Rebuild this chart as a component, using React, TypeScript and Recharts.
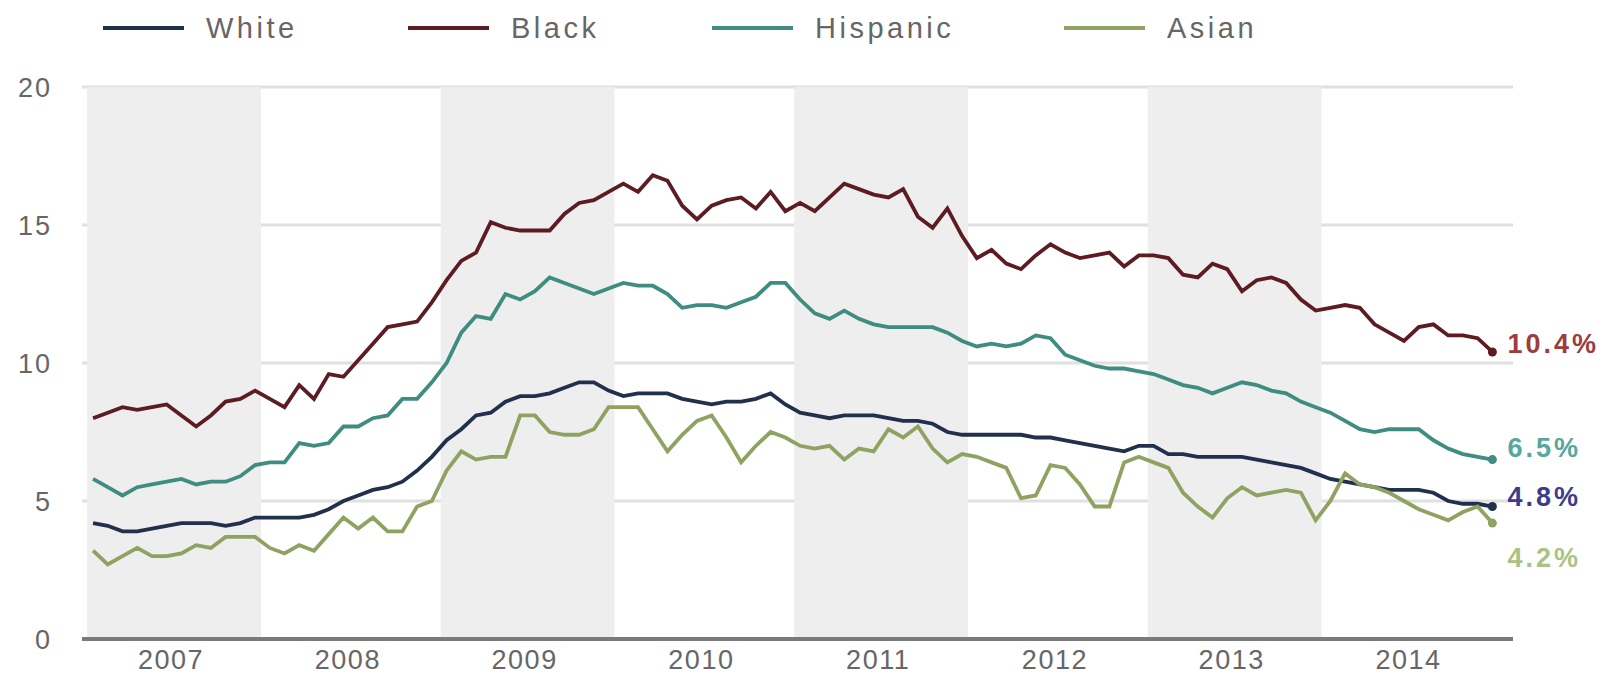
import React from "react";
import { CartesianGrid, Line, LineChart, ReferenceArea, XAxis, YAxis } from "recharts";

// monthly unemployment rate, Jan 2007 - Dec 2014
const YEARS = ["2007", "2008", "2009", "2010", "2011", "2012", "2013", "2014"];
const SHADED_YEARS = [0, 2, 4, 6];
const Y_TICKS = [0, 5, 10, 15, 20];

const WHITE = [
  4.2, 4.1, 3.9, 3.9, 4.0, 4.1, 4.2, 4.2, 4.2, 4.1, 4.2, 4.4,
  4.4, 4.4, 4.4, 4.5, 4.7, 5.0, 5.2, 5.4, 5.5, 5.7, 6.1, 6.6,
  7.2, 7.6, 8.1, 8.2, 8.6, 8.8, 8.8, 8.9, 9.1, 9.3, 9.3, 9.0,
  8.8, 8.9, 8.9, 8.9, 8.7, 8.6, 8.5, 8.6, 8.6, 8.7, 8.9, 8.5,
  8.2, 8.1, 8.0, 8.1, 8.1, 8.1, 8.0, 7.9, 7.9, 7.8, 7.5, 7.4,
  7.4, 7.4, 7.4, 7.4, 7.3, 7.3, 7.2, 7.1, 7.0, 6.9, 6.8, 7.0,
  7.0, 6.7, 6.7, 6.6, 6.6, 6.6, 6.6, 6.5, 6.4, 6.3, 6.2, 6.0,
  5.8, 5.7, 5.6, 5.5, 5.4, 5.4, 5.4, 5.3, 5.0, 4.9, 4.9, 4.8,
];

const BLACK = [
  8.0, 8.2, 8.4, 8.3, 8.4, 8.5, 8.1, 7.7, 8.1, 8.6, 8.7, 9.0,
  8.7, 8.4, 9.2, 8.7, 9.6, 9.5, 10.1, 10.7, 11.3, 11.4, 11.5, 12.2,
  13.0, 13.7, 14.0, 15.1, 14.9, 14.8, 14.8, 14.8, 15.4, 15.8, 15.9, 16.2,
  16.5, 16.2, 16.8, 16.6, 15.7, 15.2, 15.7, 15.9, 16.0, 15.6, 16.2, 15.5,
  15.8, 15.5, 16.0, 16.5, 16.3, 16.1, 16.0, 16.3, 15.3, 14.9, 15.6, 14.6,
  13.8, 14.1, 13.6, 13.4, 13.9, 14.3, 14.0, 13.8, 13.9, 14.0, 13.5, 13.9,
  13.9, 13.8, 13.2, 13.1, 13.6, 13.4, 12.6, 13.0, 13.1, 12.9, 12.3, 11.9,
  12.0, 12.1, 12.0, 11.4, 11.1, 10.8, 11.3, 11.4, 11.0, 11.0, 10.9, 10.4,
];

const HISPANIC = [
  5.8, 5.5, 5.2, 5.5, 5.6, 5.7, 5.8, 5.6, 5.7, 5.7, 5.9, 6.3,
  6.4, 6.4, 7.1, 7.0, 7.1, 7.7, 7.7, 8.0, 8.1, 8.7, 8.7, 9.3,
  10.0, 11.1, 11.7, 11.6, 12.5, 12.3, 12.6, 13.1, 12.9, 12.7, 12.5, 12.7,
  12.9, 12.8, 12.8, 12.5, 12.0, 12.1, 12.1, 12.0, 12.2, 12.4, 12.9, 12.9,
  12.3, 11.8, 11.6, 11.9, 11.6, 11.4, 11.3, 11.3, 11.3, 11.3, 11.1, 10.8,
  10.6, 10.7, 10.6, 10.7, 11.0, 10.9, 10.3, 10.1, 9.9, 9.8, 9.8, 9.7,
  9.6, 9.4, 9.2, 9.1, 8.9, 9.1, 9.3, 9.2, 9.0, 8.9, 8.6, 8.4,
  8.2, 7.9, 7.6, 7.5, 7.6, 7.6, 7.6, 7.2, 6.9, 6.7, 6.6, 6.5,
];

const ASIAN = [
  3.2, 2.7, 3.0, 3.3, 3.0, 3.0, 3.1, 3.4, 3.3, 3.7, 3.7, 3.7,
  3.3, 3.1, 3.4, 3.2, 3.8, 4.4, 4.0, 4.4, 3.9, 3.9, 4.8, 5.0,
  6.1, 6.8, 6.5, 6.6, 6.6, 8.1, 8.1, 7.5, 7.4, 7.4, 7.6, 8.4,
  8.4, 8.4, 7.6, 6.8, 7.4, 7.9, 8.1, 7.3, 6.4, 7.0, 7.5, 7.3,
  7.0, 6.9, 7.0, 6.5, 6.9, 6.8, 7.6, 7.3, 7.7, 6.9, 6.4, 6.7,
  6.6, 6.4, 6.2, 5.1, 5.2, 6.3, 6.2, 5.6, 4.8, 4.8, 6.4, 6.6,
  6.4, 6.2, 5.3, 4.8, 4.4, 5.1, 5.5, 5.2, 5.3, 5.4, 5.3, 4.3,
  5.0, 6.0, 5.6, 5.5, 5.3, 5.0, 4.7, 4.5, 4.3, 4.6, 4.8, 4.2,
];

const SERIES = [
  { key: "white", name: "White", values: WHITE, color: "#21304c", labelColor: "#3b3d8c", labelDy: -10 },
  { key: "black", name: "Black", values: BLACK, color: "#5d1b22", labelColor: "#9c3d40", labelDy: -8 },
  { key: "hispanic", name: "Hispanic", values: HISPANIC, color: "#3f8c80", labelColor: "#55a89b", labelDy: -12 },
  { key: "asian", name: "Asian", values: ASIAN, color: "#8fa262", labelColor: "#aac283", labelDy: 34 },
];

const LEGEND_ORDER = ["white", "black", "hispanic", "asian"];
const LEGEND_X = [103, 408, 712, 1064];

const rows = WHITE.map((_, i) => ({
  m: i,
  white: WHITE[i],
  black: BLACK[i],
  hispanic: HISPANIC[i],
  asian: ASIAN[i],
}));
const LAST = rows.length - 1;
const xTicks = YEARS.map((_, k) => k * 12 + 5.3);

const FONT = "'Liberation Sans', Arial, sans-serif";
const TEXT = "#666666";

function endDot(color: string) {
  return (props: any) => {
    const { cx, cy, index } = props;
    if (index !== LAST) return <g key={`d-${index}`} />;
    return <circle key={`d-${index}`} cx={cx} cy={cy} r={4.5} fill={color} />;
  };
}

function endLabel(color: string, dy: number) {
  return (props: any) => {
    const { x, y, index, value } = props;
    if (index !== LAST) return <g key={`l-${index}`} />;
    return (
      <text
        key={`l-${index}`}
        x={x + 15}
        y={y + dy}
        dy="0.35em"
        fill={color}
        fontSize={27}
        fontWeight="bold"
        letterSpacing={3}
        fontFamily={FONT}
      >
        {`${value}%`}
      </text>
    );
  };
}

export default function App() {
  return (
    <div style={{ position: "absolute", left: 0, top: 0, width: 1606, height: 677, background: "#fff" }}>
      {LEGEND_ORDER.map((key, i) => {
        const s = SERIES.find((d) => d.key === key)!;
        return (
          <div
            key={key}
            style={{
              position: "absolute",
              left: LEGEND_X[i],
              top: 10,
              height: 36,
              display: "flex",
              alignItems: "center",
              fontFamily: FONT,
              fontSize: 29,
              letterSpacing: 3.5,
              color: TEXT,
            }}
          >
            <span style={{ display: "inline-block", width: 81, height: 4, background: s.color, marginRight: 22 }} />
            {s.name}
          </div>
        );
      })}
      <LineChart
        width={1606}
        height={677}
        data={rows}
        margin={{ top: 87, right: 93, bottom: 0, left: 0 }}
      >
        {SHADED_YEARS.map((k) => (
          <ReferenceArea
            key={k}
            x1={k * 12 - 0.4}
            x2={k * 12 + 11.4}
            y1={0}
            y2={20}
            fill="#eeeeee"
            fillOpacity={1}
            stroke="none"
          />
        ))}
        <CartesianGrid vertical={false} stroke="#e0e0e0" strokeWidth={3} />
        <XAxis
          type="number"
          dataKey="m"
          domain={[-0.75, 96.4]}
          ticks={xTicks}
          tickFormatter={(v: number) => YEARS[Math.round((v - 5.3) / 12)]}
          height={38}
          tickSize={0}
          tickMargin={11}
          axisLine={{ stroke: "#7a7a7a", strokeWidth: 4 }}
          tickLine={false}
          tick={{ fill: TEXT, fontSize: 27, fontFamily: FONT, letterSpacing: 1.5 }}
        />
        <YAxis
          domain={[0, 20]}
          ticks={Y_TICKS}
          width={82}
          tickSize={0}
          tickMargin={30}
          axisLine={false}
          tickLine={false}
          tick={{ fill: TEXT, fontSize: 27, fontFamily: FONT, letterSpacing: 2 }}
        />
        {SERIES.map((s) => (
          <Line
            key={s.key}
            type="linear"
            dataKey={s.key}
            name={s.name}
            stroke={s.color}
            strokeWidth={3.8}
            dot={endDot(s.color)}
            activeDot={false}
            label={endLabel(s.labelColor, s.labelDy)}
            isAnimationActive={false}
          />
        ))}
      </LineChart>
    </div>
  );
}
